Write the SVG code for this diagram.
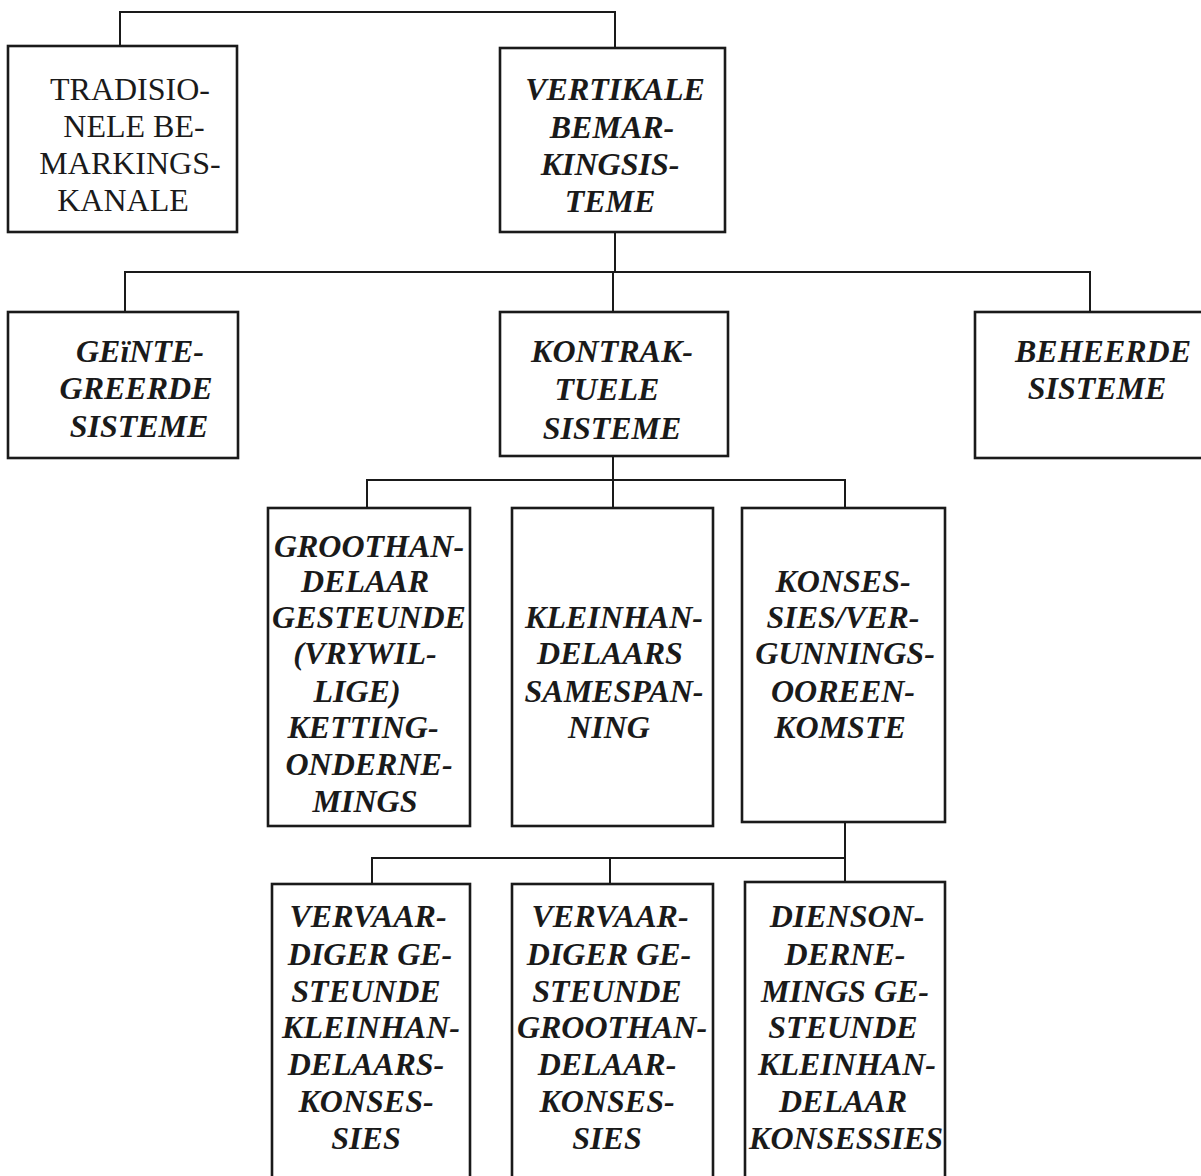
<svg xmlns="http://www.w3.org/2000/svg" width="1201" height="1176" viewBox="0 0 1201 1176">
  <style>
    .box { fill: none; stroke: #1a1a1a; stroke-width: 2.6; }
    .wire { fill: none; stroke: #1a1a1a; stroke-width: 2; }
    text { font-family: "Liberation Serif", "Times New Roman", serif; font-size: 32px; fill: #1a1a1a; text-anchor: middle; }
    .bi { font-weight: bold; font-style: italic; }
  </style>
  <rect width="1201" height="1176" fill="#ffffff"/>

  <g id="connectors">
    <path class="wire" d="M120 46 V12 H615 V48"/>
    <path class="wire" d="M615 232 V272 M125 312 V272 H1090 V312 M613 272 V312"/>
    <path class="wire" d="M613 456 V480 M367 508 V480 H845 V508 M613 480 V508"/>
    <path class="wire" d="M845 822 V858 M372 884 V858 H845 V882 M610 858 V884"/>
  </g>

  <g id="tradisionele">
    <rect class="box" x="8" y="46" width="229" height="186"/>
    <text x="130" y="100">TRADISIO-</text>
    <text x="134" y="137">NELE BE-</text>
    <text x="130" y="174">MARKINGS-</text>
    <text x="123" y="211">KANALE</text>
  </g>

  <g id="vertikale">
    <rect class="box" x="500" y="48" width="225" height="184"/>
    <text class="bi" x="615" y="100">VERTIKALE</text>
    <text class="bi" x="612" y="138">BEMAR-</text>
    <text class="bi" x="610" y="175">KINGSIS-</text>
    <text class="bi" x="610" y="212">TEME</text>
  </g>

  <g id="geintegreerde">
    <rect class="box" x="8" y="312" width="230" height="146"/>
    <text class="bi" x="140" y="362">GEïNTE-</text>
    <text class="bi" x="136" y="399">GREERDE</text>
    <text class="bi" x="139" y="437">SISTEME</text>
  </g>

  <g id="kontraktuele">
    <rect class="box" x="500" y="312" width="228" height="144"/>
    <text class="bi" x="612" y="362">KONTRAK-</text>
    <text class="bi" x="607" y="400">TUELE</text>
    <text class="bi" x="612" y="439">SISTEME</text>
  </g>

  <g id="beheerde">
    <rect class="box" x="975" y="312" width="240" height="146"/>
    <text class="bi" x="1103" y="362">BEHEERDE</text>
    <text class="bi" x="1097" y="399">SISTEME</text>
  </g>

  <g id="groothandelaar">
    <rect class="box" x="268" y="508" width="202" height="318"/>
    <text class="bi" x="369" y="557">GROOTHAN-</text>
    <text class="bi" x="365" y="592">DELAAR</text>
    <text class="bi" x="369" y="628">GESTEUNDE</text>
    <text class="bi" x="365" y="664">(VRYWIL-</text>
    <text class="bi" x="357" y="702">LIGE)</text>
    <text class="bi" x="363" y="738">KETTING-</text>
    <text class="bi" x="369" y="775">ONDERNE-</text>
    <text class="bi" x="365" y="812">MINGS</text>
  </g>

  <g id="kleinhandelaars">
    <rect class="box" x="512" y="508" width="201" height="318"/>
    <text class="bi" x="614" y="628">KLEINHAN-</text>
    <text class="bi" x="610" y="664">DELAARS</text>
    <text class="bi" x="614" y="702">SAMESPAN-</text>
    <text class="bi" x="609" y="738">NING</text>
  </g>

  <g id="konsessies">
    <rect class="box" x="742" y="508" width="203" height="314"/>
    <text class="bi" x="843" y="592">KONSES-</text>
    <text class="bi" x="843" y="628">SIES/VER-</text>
    <text class="bi" x="845" y="664">GUNNINGS-</text>
    <text class="bi" x="843" y="702">OOREEN-</text>
    <text class="bi" x="840" y="738">KOMSTE</text>
  </g>

  <g id="vervaardiger-kleinhandelaars">
    <rect class="box" x="272" y="884" width="198" height="310"/>
    <text class="bi" x="368" y="927">VERVAAR-</text>
    <text class="bi" x="370" y="965">DIGER GE-</text>
    <text class="bi" x="366" y="1002">STEUNDE</text>
    <text class="bi" x="371" y="1038">KLEINHAN-</text>
    <text class="bi" x="366" y="1075">DELAARS-</text>
    <text class="bi" x="366" y="1112">KONSES-</text>
    <text class="bi" x="366" y="1149">SIES</text>
  </g>

  <g id="vervaardiger-groothandelaar">
    <rect class="box" x="512" y="884" width="201" height="310"/>
    <text class="bi" x="610" y="927">VERVAAR-</text>
    <text class="bi" x="609" y="965">DIGER GE-</text>
    <text class="bi" x="607" y="1002">STEUNDE</text>
    <text class="bi" x="612" y="1038">GROOTHAN-</text>
    <text class="bi" x="607" y="1075">DELAAR-</text>
    <text class="bi" x="607" y="1112">KONSES-</text>
    <text class="bi" x="607" y="1149">SIES</text>
  </g>

  <g id="diensondernemings">
    <rect class="box" x="745" y="882" width="200" height="312"/>
    <text class="bi" x="847" y="927">DIENSON-</text>
    <text class="bi" x="845" y="965">DERNE-</text>
    <text class="bi" x="845" y="1002">MINGS GE-</text>
    <text class="bi" x="843" y="1038">STEUNDE</text>
    <text class="bi" x="847" y="1075">KLEINHAN-</text>
    <text class="bi" x="843" y="1112">DELAAR</text>
    <text class="bi" x="846" y="1149">KONSESSIES</text>
  </g>
</svg>
